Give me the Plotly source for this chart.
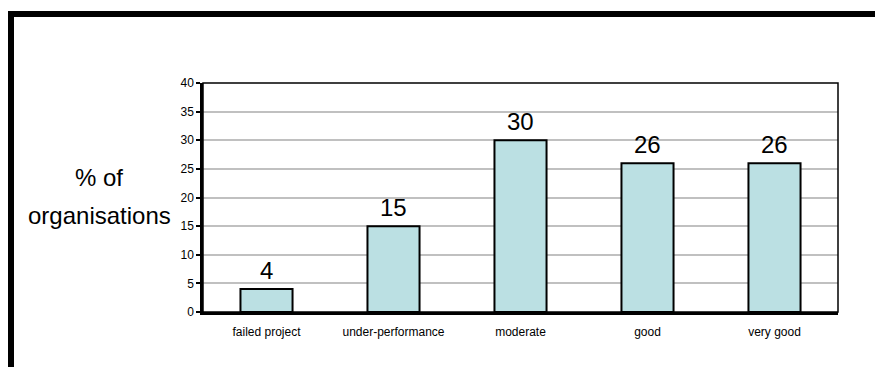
import plotly.graph_objects as go

categories = ["failed project", "under-performance", "moderate", "good", "very good"]
values = [4, 15, 30, 26, 26]
y_ticks = [0, 5, 10, 15, 20, 25, 30, 35, 40]
y_title_lines = ["% of", "organisations"]

W, H = 875, 367
L, R, T, B = 203, 37, 83, 55
pw, ph = W - L - R, H - T - B

def px_x(p):
    return (p - L) / pw

def px_y(p):
    return (H - B - p) / ph

fig = go.Figure()
fig.add_trace(go.Bar(
    x=categories, y=values, width=0.41,
    marker=dict(color="#BBE0E3", line=dict(color="black", width=2)),
    showlegend=False, hoverinfo="skip",
))

for c, v in zip(categories, values):
    fig.add_annotation(x=c, y=v, xref="x", yref="y", text=str(v), showarrow=False,
                       yanchor="bottom", yshift=3,
                       font=dict(family="Liberation Sans, Arial", size=24, color="black"))

for line, cy in zip(y_title_lines, [177, 215]):
    fig.add_annotation(xref="paper", yref="paper", x=px_x(99), y=px_y(cy),
                       text=line, showarrow=False,
                       xanchor="center", yanchor="middle", align="center",
                       font=dict(family="Liberation Sans, Arial", size=24, color="black"))

# plot border (thin, top/right)
fig.add_shape(type="rect", xref="paper", yref="paper", x0=0, x1=1, y0=0, y1=1,
              line=dict(color="black", width=1.5), layer="above")
# outer frame
fig.add_shape(type="rect", xref="paper", yref="paper",
              x0=px_x(11), x1=px_x(900), y0=px_y(400), y1=px_y(14),
              line=dict(color="black", width=6), layer="above")

fig.update_xaxes(showline=True, linecolor="black", linewidth=2.5, ticks="",
                 showgrid=False, ticklabelstandoff=7,
                 tickfont=dict(family="Liberation Sans, Arial", size=12, color="black"))
fig.update_yaxes(range=[0, 40], tickvals=y_ticks, showline=True, linecolor="black", linewidth=2.5,
                 ticks="outside", ticklen=4, tickwidth=1.5, tickcolor="black",
                 showgrid=True, gridcolor="#C0C0C0", gridwidth=2, zeroline=False,
                 tickfont=dict(family="Liberation Sans, Arial", size=12, color="black"))

fig.update_layout(width=W, height=H, margin=dict(l=L, r=R, t=T, b=B),
                  plot_bgcolor="white", paper_bgcolor="white", bargap=0.59)

fig.write_html("out.html")
